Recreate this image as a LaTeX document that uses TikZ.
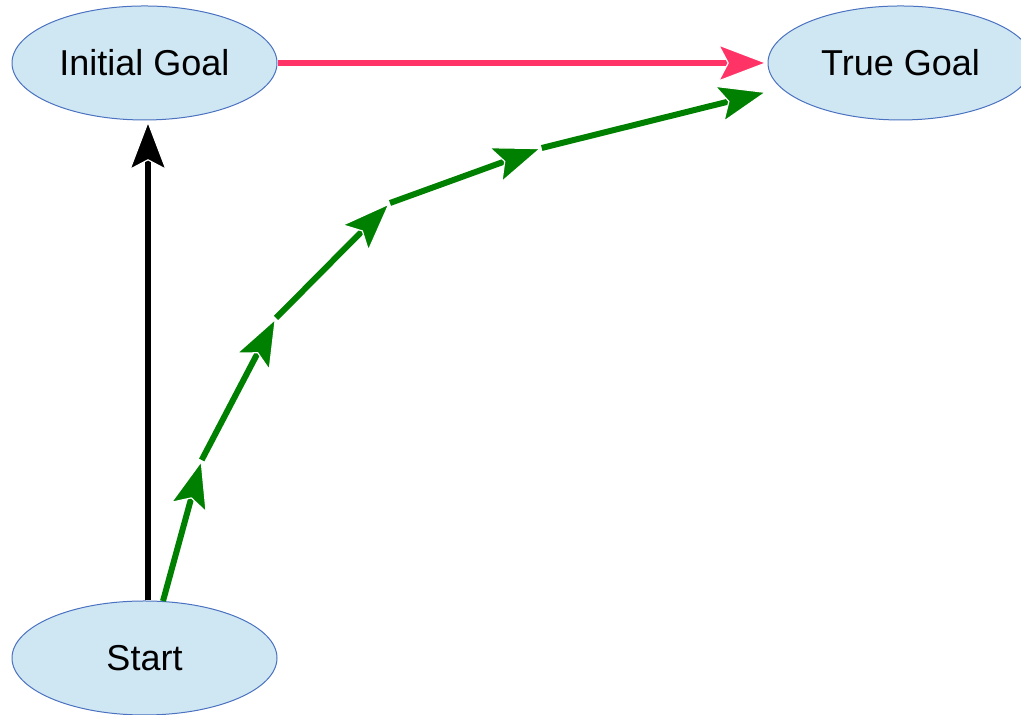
\documentclass[tikz,border=0pt]{standalone}
\usepackage{fontspec}
\setmainfont{Liberation Sans}
\usetikzlibrary{arrows.meta,shapes.geometric}
\definecolor{goalfill}{RGB}{207,230,243}
\definecolor{goalline}{RGB}{74,114,192}
\definecolor{pathgreen}{RGB}{0,128,0}
\definecolor{wrongpink}{RGB}{255,51,102}
\tikzset{
  goal/.style={ellipse,draw=goalline,fill=goalfill,line width=0.5pt,
    minimum width=132.5pt,minimum height=57pt,inner sep=0pt,
    font=\fontsize{18}{21}\selectfont},
  tip/.style={-{Stealth[length=25pt,width=19pt,inset=5pt,
    line width=0.6pt,color=white,fill=#1]}},
  flow/.style={draw=pathgreen,line width=3pt,tip=pathgreen},
}
\begin{document}
\begin{tikzpicture}[x=50pt,y=50pt]
   \useasboundingbox (0,0) rectangle (10.21,7.15);
   \node[goal] (init)  at (1.445,6.52) {Initial Goal};
   \node[goal] (true)  at (9.005,6.52) {True Goal};
   \node[goal] (start) at (1.445,0.57) {Start};
   % waypoints of the green path
   \coordinate (w1) at (2.017,2.55);
   \coordinate (w2) at (2.76,3.97);
   \coordinate (w3) at (3.90,5.12);
   \coordinate (w4) at (5.417,5.67);
   \coordinate (w5) at (7.67,6.23);
   \draw[line width=3pt,tip=black] ([xshift=1.75pt]start.north) -- ([xshift=1.75pt]init.south);
   \draw[draw=wrongpink,line width=2.6pt,tip=wrongpink] (init.east) -- (true.west);
   \draw[flow] (start.72) -- (w1);
   \draw[flow] (w1) -- (w2);
   \draw[flow] (w2) -- (w3);
   \draw[flow] (w3) -- (w4);
   \draw[flow] (w4) -- (w5);
\end{tikzpicture}
\end{document}
